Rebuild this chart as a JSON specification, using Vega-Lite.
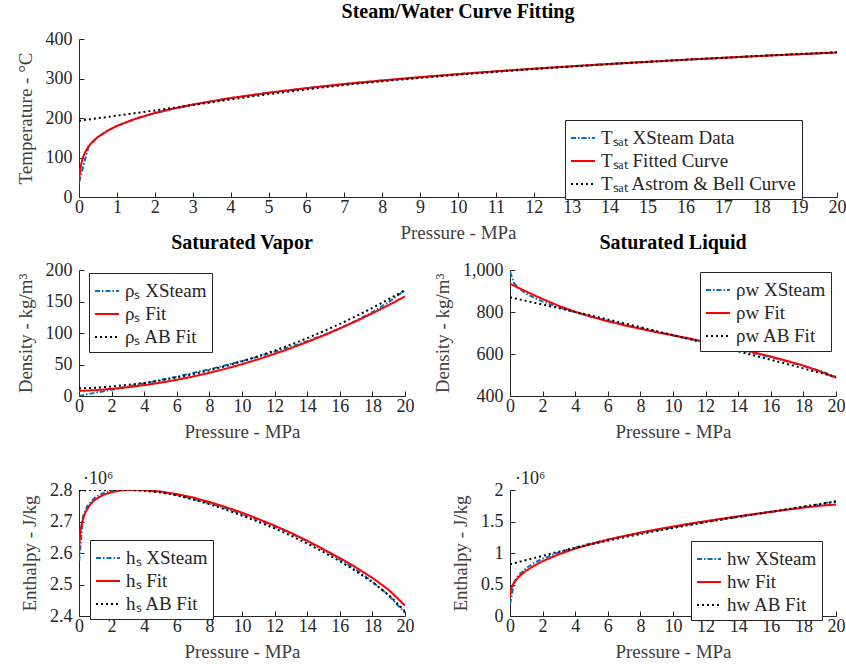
{
  "$schema": "https://vega.github.io/schema/vega-lite/v6.json",
  "padding": {"left": 15, "top": 2, "right": 0, "bottom": 5},
  "background": "white",
  "config": {
    "font": "Liberation Serif",
    "view": {"stroke": null},
    "axis": {"grid": false, "domainColor": "#262626", "domainWidth": 1, "tickColor": "#262626", "tickSize": -5, "labelFontSize": 18, "labelColor": "#262626", "titleFontSize": 19, "titleFontWeight": "normal", "titleColor": "#404040", "labelFlush": false, "labelOverlap": false},
    "axisX": {"titlePadding": 7, "labelPadding": 6},
    "axisY": {"titlePadding": 10, "labelPadding": 12},
    "legend": {"strokeColor": "#262626", "fillColor": "#ffffff", "padding": 5, "symbolType": "stroke", "symbolSize": 576, "symbolStrokeWidth": 2, "labelFontSize": 19, "labelColor": "#262626", "labelOffset": 5, "rowPadding": 0, "cornerRadius": 0, "labelLimit": 400},
    "title": {"fontSize": 20, "fontWeight": "bold", "color": "#000000", "frame": "group", "anchor": "middle", "offset": 8},
    "line": {"strokeWidth": 2}
  },
  "datasets": {
    "tsat": [
      {"s": "data", "p": 0.007, "v": 39}, {"s": "data", "p": 0.25, "v": 127.4}, {"s": "data", "p": 0.5, "v": 151.8}, {"s": "data", "p": 0.75, "v": 167.8}, {"s": "data", "p": 1, "v": 179.9}, {"s": "data", "p": 1.5, "v": 198.3}, {"s": "data", "p": 2, "v": 212.4}, {"s": "data", "p": 2.5, "v": 223.9}, {"s": "data", "p": 3, "v": 233.9}, {"s": "data", "p": 3.5, "v": 242.6}, {"s": "data", "p": 4, "v": 250.4}, {"s": "data", "p": 5, "v": 263.9}, {"s": "data", "p": 6, "v": 275.6}, {"s": "data", "p": 7, "v": 285.8}, {"s": "data", "p": 8, "v": 295.0}, {"s": "data", "p": 9, "v": 303.3}, {"s": "data", "p": 10, "v": 311.0}, {"s": "data", "p": 11, "v": 318.1}, {"s": "data", "p": 12, "v": 324.7}, {"s": "data", "p": 13, "v": 330.9}, {"s": "data", "p": 14, "v": 336.7}, {"s": "data", "p": 15, "v": 342.2}, {"s": "data", "p": 16, "v": 347.4}, {"s": "data", "p": 17, "v": 352.3}, {"s": "data", "p": 18, "v": 357.0}, {"s": "data", "p": 19, "v": 361.5}, {"s": "data", "p": 20, "v": 365.7},
      {"s": "fit", "p": 0, "v": 35}, {"s": "fit", "p": 0.01, "v": 50}, {"s": "fit", "p": 0.03, "v": 68}, {"s": "fit", "p": 0.06, "v": 84}, {"s": "fit", "p": 0.1, "v": 99}, {"s": "fit", "p": 0.15, "v": 111}, {"s": "fit", "p": 0.2, "v": 120}, {"s": "fit", "p": 0.3, "v": 134}, {"s": "fit", "p": 0.4, "v": 144}, {"s": "fit", "p": 0.5, "v": 152}, {"s": "fit", "p": 0.75, "v": 167.5}, {"s": "fit", "p": 1, "v": 180}, {"s": "fit", "p": 1.5, "v": 198.5}, {"s": "fit", "p": 2, "v": 212.5}, {"s": "fit", "p": 2.5, "v": 224}, {"s": "fit", "p": 3, "v": 234}, {"s": "fit", "p": 4, "v": 250.5}, {"s": "fit", "p": 5, "v": 264}, {"s": "fit", "p": 6, "v": 275.6}, {"s": "fit", "p": 7, "v": 285.9}, {"s": "fit", "p": 8, "v": 295.1}, {"s": "fit", "p": 9, "v": 303.4}, {"s": "fit", "p": 10, "v": 311.1}, {"s": "fit", "p": 11, "v": 318.2}, {"s": "fit", "p": 12, "v": 324.8}, {"s": "fit", "p": 13, "v": 331}, {"s": "fit", "p": 14, "v": 336.8}, {"s": "fit", "p": 15, "v": 342.3}, {"s": "fit", "p": 16, "v": 347.5}, {"s": "fit", "p": 17, "v": 352.4}, {"s": "fit", "p": 18, "v": 357.1}, {"s": "fit", "p": 19, "v": 361.6}, {"s": "fit", "p": 20, "v": 365.8},
      {"s": "ab", "p": 0, "v": 193}, {"s": "ab", "p": 1, "v": 206}, {"s": "ab", "p": 2, "v": 219}, {"s": "ab", "p": 3, "v": 232.5}, {"s": "ab", "p": 4, "v": 247}, {"s": "ab", "p": 5, "v": 260.5}, {"s": "ab", "p": 6, "v": 272.5}, {"s": "ab", "p": 7, "v": 283.5}, {"s": "ab", "p": 8, "v": 293}, {"s": "ab", "p": 9, "v": 301.5}, {"s": "ab", "p": 10, "v": 309.5}, {"s": "ab", "p": 11, "v": 317}, {"s": "ab", "p": 12, "v": 324}, {"s": "ab", "p": 13, "v": 330.5}, {"s": "ab", "p": 14, "v": 336.5}, {"s": "ab", "p": 15, "v": 342}, {"s": "ab", "p": 16, "v": 347.5}, {"s": "ab", "p": 17, "v": 352.5}, {"s": "ab", "p": 18, "v": 357.5}, {"s": "ab", "p": 19, "v": 362}, {"s": "ab", "p": 20, "v": 366.5}
    ],
    "rhos": [
      {"s": "data", "p": 0.01, "v": 0.07}, {"s": "data", "p": 0.25, "v": 1.39}, {"s": "data", "p": 0.5, "v": 2.67}, {"s": "data", "p": 1, "v": 5.15}, {"s": "data", "p": 2, "v": 10.04}, {"s": "data", "p": 3, "v": 15.0}, {"s": "data", "p": 4, "v": 20.1}, {"s": "data", "p": 5, "v": 25.35}, {"s": "data", "p": 6, "v": 30.8}, {"s": "data", "p": 7, "v": 36.5}, {"s": "data", "p": 8, "v": 42.5}, {"s": "data", "p": 9, "v": 48.8}, {"s": "data", "p": 10, "v": 55.5}, {"s": "data", "p": 11, "v": 62.5}, {"s": "data", "p": 12, "v": 70.1}, {"s": "data", "p": 13, "v": 78.2}, {"s": "data", "p": 14, "v": 87.1}, {"s": "data", "p": 15, "v": 96.7}, {"s": "data", "p": 16, "v": 107.4}, {"s": "data", "p": 17, "v": 119.5}, {"s": "data", "p": 18, "v": 133.2}, {"s": "data", "p": 19, "v": 149.0}, {"s": "data", "p": 20, "v": 168},
      {"s": "fit", "p": 0, "v": 8}, {"s": "fit", "p": 1, "v": 9.3}, {"s": "fit", "p": 2, "v": 11.3}, {"s": "fit", "p": 3, "v": 13.9}, {"s": "fit", "p": 4, "v": 17.2}, {"s": "fit", "p": 5, "v": 21.1}, {"s": "fit", "p": 6, "v": 25.7}, {"s": "fit", "p": 7, "v": 30.9}, {"s": "fit", "p": 8, "v": 36.8}, {"s": "fit", "p": 9, "v": 43.3}, {"s": "fit", "p": 10, "v": 50.5}, {"s": "fit", "p": 11, "v": 58.3}, {"s": "fit", "p": 12, "v": 66.8}, {"s": "fit", "p": 13, "v": 75.9}, {"s": "fit", "p": 14, "v": 85.7}, {"s": "fit", "p": 15, "v": 96.1}, {"s": "fit", "p": 16, "v": 107.2}, {"s": "fit", "p": 17, "v": 118.9}, {"s": "fit", "p": 18, "v": 131.3}, {"s": "fit", "p": 19, "v": 144.3}, {"s": "fit", "p": 20, "v": 158},
      {"s": "ab", "p": 0, "v": 12}, {"s": "ab", "p": 1, "v": 13.2}, {"s": "ab", "p": 2, "v": 15}, {"s": "ab", "p": 3, "v": 17.6}, {"s": "ab", "p": 4, "v": 20.8}, {"s": "ab", "p": 5, "v": 24.8}, {"s": "ab", "p": 6, "v": 29.4}, {"s": "ab", "p": 7, "v": 34.8}, {"s": "ab", "p": 8, "v": 40.8}, {"s": "ab", "p": 9, "v": 47.6}, {"s": "ab", "p": 10, "v": 55}, {"s": "ab", "p": 11, "v": 63.2}, {"s": "ab", "p": 12, "v": 72}, {"s": "ab", "p": 13, "v": 81.6}, {"s": "ab", "p": 14, "v": 91.8}, {"s": "ab", "p": 15, "v": 102.8}, {"s": "ab", "p": 16, "v": 114.4}, {"s": "ab", "p": 17, "v": 126.8}, {"s": "ab", "p": 18, "v": 139.8}, {"s": "ab", "p": 19, "v": 153.6}, {"s": "ab", "p": 20, "v": 168}
    ],
    "rhow": [
      {"s": "data", "p": 0.01, "v": 989.8}, {"s": "data", "p": 0.25, "v": 937.5}, {"s": "data", "p": 0.5, "v": 915.3}, {"s": "data", "p": 1, "v": 887.1}, {"s": "data", "p": 1.5, "v": 866.8}, {"s": "data", "p": 2, "v": 849.8}, {"s": "data", "p": 3, "v": 821.9}, {"s": "data", "p": 4, "v": 798.4}, {"s": "data", "p": 5, "v": 777.4}, {"s": "data", "p": 6, "v": 758.0}, {"s": "data", "p": 7, "v": 739.7}, {"s": "data", "p": 8, "v": 722.2}, {"s": "data", "p": 9, "v": 705.0}, {"s": "data", "p": 10, "v": 688.4}, {"s": "data", "p": 11, "v": 671.8}, {"s": "data", "p": 12, "v": 654.9}, {"s": "data", "p": 13, "v": 637.8}, {"s": "data", "p": 14, "v": 620.0}, {"s": "data", "p": 15, "v": 603.5}, {"s": "data", "p": 16, "v": 584.6}, {"s": "data", "p": 17, "v": 564.8}, {"s": "data", "p": 18, "v": 543.5}, {"s": "data", "p": 19, "v": 520}, {"s": "data", "p": 20, "v": 490.8},
      {"s": "fit", "p": 0, "v": 935}, {"s": "fit", "p": 0.5, "v": 916}, {"s": "fit", "p": 1, "v": 897}, {"s": "fit", "p": 1.5, "v": 879}, {"s": "fit", "p": 2, "v": 862}, {"s": "fit", "p": 3, "v": 829}, {"s": "fit", "p": 4, "v": 801}, {"s": "fit", "p": 5, "v": 777}, {"s": "fit", "p": 6, "v": 756}, {"s": "fit", "p": 7, "v": 737}, {"s": "fit", "p": 8, "v": 720}, {"s": "fit", "p": 9, "v": 704}, {"s": "fit", "p": 10, "v": 689}, {"s": "fit", "p": 11, "v": 674}, {"s": "fit", "p": 12, "v": 658}, {"s": "fit", "p": 13, "v": 642}, {"s": "fit", "p": 14, "v": 625}, {"s": "fit", "p": 15, "v": 607}, {"s": "fit", "p": 16, "v": 588}, {"s": "fit", "p": 17, "v": 567}, {"s": "fit", "p": 18, "v": 545}, {"s": "fit", "p": 19, "v": 518}, {"s": "fit", "p": 20, "v": 487},
      {"s": "ab", "p": 0, "v": 870}, {"s": "ab", "p": 1, "v": 852.9}, {"s": "ab", "p": 2, "v": 835.6}, {"s": "ab", "p": 3, "v": 818.1}, {"s": "ab", "p": 4, "v": 800.4}, {"s": "ab", "p": 5, "v": 782.5}, {"s": "ab", "p": 6, "v": 764.4}, {"s": "ab", "p": 7, "v": 746.1}, {"s": "ab", "p": 8, "v": 727.6}, {"s": "ab", "p": 9, "v": 708.9}, {"s": "ab", "p": 10, "v": 690}, {"s": "ab", "p": 11, "v": 670.9}, {"s": "ab", "p": 12, "v": 651.6}, {"s": "ab", "p": 13, "v": 632.1}, {"s": "ab", "p": 14, "v": 612.4}, {"s": "ab", "p": 15, "v": 592.5}, {"s": "ab", "p": 16, "v": 572.4}, {"s": "ab", "p": 17, "v": 552.1}, {"s": "ab", "p": 18, "v": 531.6}, {"s": "ab", "p": 19, "v": 510.9}, {"s": "ab", "p": 20, "v": 490}
    ],
    "hs": [
      {"s": "data", "p": 0.01, "v": 2575000}, {"s": "data", "p": 0.25, "v": 2716000}, {"s": "data", "p": 0.5, "v": 2748000}, {"s": "data", "p": 1, "v": 2777000}, {"s": "data", "p": 1.5, "v": 2791000}, {"s": "data", "p": 2, "v": 2798000}, {"s": "data", "p": 2.5, "v": 2800000}, {"s": "data", "p": 3, "v": 2800000}, {"s": "data", "p": 3.5, "v": 2800000}, {"s": "data", "p": 4, "v": 2800000}, {"s": "data", "p": 5, "v": 2794000}, {"s": "data", "p": 6, "v": 2784000}, {"s": "data", "p": 7, "v": 2772000}, {"s": "data", "p": 8, "v": 2758000}, {"s": "data", "p": 9, "v": 2742000}, {"s": "data", "p": 10, "v": 2724000}, {"s": "data", "p": 11, "v": 2705000}, {"s": "data", "p": 12, "v": 2684000}, {"s": "data", "p": 13, "v": 2662000}, {"s": "data", "p": 14, "v": 2637000}, {"s": "data", "p": 15, "v": 2610000}, {"s": "data", "p": 16, "v": 2580000}, {"s": "data", "p": 17, "v": 2547000}, {"s": "data", "p": 18, "v": 2509000}, {"s": "data", "p": 19, "v": 2465000}, {"s": "data", "p": 20, "v": 2410000},
      {"s": "fit", "p": 0, "v": 2600000}, {"s": "fit", "p": 0.05, "v": 2650000}, {"s": "fit", "p": 0.1, "v": 2675000}, {"s": "fit", "p": 0.2, "v": 2700000}, {"s": "fit", "p": 0.4, "v": 2730000}, {"s": "fit", "p": 0.7, "v": 2755000}, {"s": "fit", "p": 1, "v": 2770000}, {"s": "fit", "p": 1.5, "v": 2785000}, {"s": "fit", "p": 2, "v": 2793000}, {"s": "fit", "p": 2.5, "v": 2798000}, {"s": "fit", "p": 3, "v": 2800000}, {"s": "fit", "p": 3.5, "v": 2800000}, {"s": "fit", "p": 4, "v": 2799000}, {"s": "fit", "p": 5, "v": 2795000}, {"s": "fit", "p": 6, "v": 2787000}, {"s": "fit", "p": 7, "v": 2776000}, {"s": "fit", "p": 8, "v": 2762000}, {"s": "fit", "p": 9, "v": 2746000}, {"s": "fit", "p": 10, "v": 2728000}, {"s": "fit", "p": 11, "v": 2708000}, {"s": "fit", "p": 12, "v": 2687000}, {"s": "fit", "p": 13, "v": 2664000}, {"s": "fit", "p": 14, "v": 2639000}, {"s": "fit", "p": 15, "v": 2612000}, {"s": "fit", "p": 16, "v": 2584000}, {"s": "fit", "p": 17, "v": 2554000}, {"s": "fit", "p": 18, "v": 2521000}, {"s": "fit", "p": 19, "v": 2483000}, {"s": "fit", "p": 20, "v": 2433000},
      {"s": "ab", "p": 0, "v": 2799000}, {"s": "ab", "p": 1, "v": 2800000}, {"s": "ab", "p": 2, "v": 2800000}, {"s": "ab", "p": 3, "v": 2800000}, {"s": "ab", "p": 4, "v": 2798000}, {"s": "ab", "p": 5, "v": 2792000}, {"s": "ab", "p": 6, "v": 2783000}, {"s": "ab", "p": 7, "v": 2770000}, {"s": "ab", "p": 8, "v": 2755000}, {"s": "ab", "p": 9, "v": 2738000}, {"s": "ab", "p": 10, "v": 2719000}, {"s": "ab", "p": 11, "v": 2699000}, {"s": "ab", "p": 12, "v": 2678000}, {"s": "ab", "p": 13, "v": 2655000}, {"s": "ab", "p": 14, "v": 2630000}, {"s": "ab", "p": 15, "v": 2603000}, {"s": "ab", "p": 16, "v": 2574000}, {"s": "ab", "p": 17, "v": 2542000}, {"s": "ab", "p": 18, "v": 2507000}, {"s": "ab", "p": 19, "v": 2467000}, {"s": "ab", "p": 20, "v": 2415000}
    ],
    "hw": [
      {"s": "data", "p": 0.01, "v": 191800}, {"s": "data", "p": 0.25, "v": 535400}, {"s": "data", "p": 0.5, "v": 640100}, {"s": "data", "p": 1, "v": 762600}, {"s": "data", "p": 1.5, "v": 844700}, {"s": "data", "p": 2, "v": 908600}, {"s": "data", "p": 3, "v": 1008400}, {"s": "data", "p": 4, "v": 1087300}, {"s": "data", "p": 5, "v": 1154500}, {"s": "data", "p": 6, "v": 1213700}, {"s": "data", "p": 7, "v": 1267400}, {"s": "data", "p": 8, "v": 1316600}, {"s": "data", "p": 9, "v": 1363300}, {"s": "data", "p": 10, "v": 1407600}, {"s": "data", "p": 11, "v": 1450100}, {"s": "data", "p": 12, "v": 1491300}, {"s": "data", "p": 13, "v": 1531500}, {"s": "data", "p": 14, "v": 1571100}, {"s": "data", "p": 15, "v": 1610500}, {"s": "data", "p": 16, "v": 1650100}, {"s": "data", "p": 17, "v": 1690300}, {"s": "data", "p": 18, "v": 1732000}, {"s": "data", "p": 19, "v": 1776500}, {"s": "data", "p": 20, "v": 1826300},
      {"s": "fit", "p": 0, "v": 300000}, {"s": "fit", "p": 0.05, "v": 400000}, {"s": "fit", "p": 0.1, "v": 450000}, {"s": "fit", "p": 0.2, "v": 510000}, {"s": "fit", "p": 0.4, "v": 580000}, {"s": "fit", "p": 0.7, "v": 660000}, {"s": "fit", "p": 1, "v": 720000}, {"s": "fit", "p": 1.5, "v": 800000}, {"s": "fit", "p": 2, "v": 870000}, {"s": "fit", "p": 3, "v": 980000}, {"s": "fit", "p": 4, "v": 1070000}, {"s": "fit", "p": 5, "v": 1145000}, {"s": "fit", "p": 6, "v": 1210000}, {"s": "fit", "p": 7, "v": 1270000}, {"s": "fit", "p": 8, "v": 1325000}, {"s": "fit", "p": 9, "v": 1375000}, {"s": "fit", "p": 10, "v": 1420000}, {"s": "fit", "p": 11, "v": 1465000}, {"s": "fit", "p": 12, "v": 1505000}, {"s": "fit", "p": 13, "v": 1545000}, {"s": "fit", "p": 14, "v": 1583000}, {"s": "fit", "p": 15, "v": 1620000}, {"s": "fit", "p": 16, "v": 1655000}, {"s": "fit", "p": 17, "v": 1688000}, {"s": "fit", "p": 18, "v": 1720000}, {"s": "fit", "p": 19, "v": 1750000}, {"s": "fit", "p": 20, "v": 1770000},
      {"s": "ab", "p": 0, "v": 820000}, {"s": "ab", "p": 1, "v": 888000}, {"s": "ab", "p": 2, "v": 955000}, {"s": "ab", "p": 3, "v": 1020000}, {"s": "ab", "p": 4, "v": 1080000}, {"s": "ab", "p": 5, "v": 1140000}, {"s": "ab", "p": 6, "v": 1195000}, {"s": "ab", "p": 7, "v": 1250000}, {"s": "ab", "p": 8, "v": 1300000}, {"s": "ab", "p": 9, "v": 1350000}, {"s": "ab", "p": 10, "v": 1398000}, {"s": "ab", "p": 11, "v": 1445000}, {"s": "ab", "p": 12, "v": 1490000}, {"s": "ab", "p": 13, "v": 1533000}, {"s": "ab", "p": 14, "v": 1575000}, {"s": "ab", "p": 15, "v": 1615000}, {"s": "ab", "p": 16, "v": 1655000}, {"s": "ab", "p": 17, "v": 1695000}, {"s": "ab", "p": 18, "v": 1735000}, {"s": "ab", "p": 19, "v": 1775000}, {"s": "ab", "p": 20, "v": 1815000}
    ]
  },
  "bounds": "flush",
  "spacing": 73,
  "resolve": {"scale": {"color": "independent", "strokeDash": "independent"}, "legend": {"color": "independent", "strokeDash": "independent"}},
  "vconcat": [
    {
      "width": 758, "height": 158,
      "title": {"text": "Steam/Water Curve Fitting"},
      "data": {"name": "tsat"},
      "mark": {"type": "line", "clip": true, "strokeWidth": 2},
      "encoding": {
        "x": {"field": "p", "type": "quantitative", "scale": {"domain": [0, 20], "nice": false}, "axis": {"title": "Pressure - MPa", "values": [0,1,2,3,4,5,6,7,8,9,10,11,12,13,14,15,16,17,18,19,20]}},
        "y": {"field": "v", "type": "quantitative", "scale": {"domain": [0, 400], "nice": false}, "axis": {"title": "Temperature - °C", "values": [0,100,200,300,400]}},
        "color": {"field": "s", "type": "nominal", "scale": {"domain": ["data","fit","ab"], "range": ["#0072BD","#FF0000","#000000"]},
          "legend": {"title": null, "orient": "none", "legendX": 486, "legendY": 81, "labelExpr": "datum.label == 'data' ? 'Tₛₐₜ XSteam Data' : datum.label == 'fit' ? 'Tₛₐₜ Fitted Curve' : 'Tₛₐₜ Astrom & Bell Curve'"}},
        "strokeDash": {"field": "s", "type": "nominal", "scale": {"domain": ["data","fit","ab"], "range": [[5,2,1.5,2],[1,0],[2,3]]},
          "legend": {"title": null, "orient": "none", "legendX": 486, "legendY": 81, "labelExpr": "datum.label == 'data' ? 'Tₛₐₜ XSteam Data' : datum.label == 'fit' ? 'Tₛₐₜ Fitted Curve' : 'Tₛₐₜ Astrom & Bell Curve'"}}
      }
    },
    {
      "bounds": "flush",
      "spacing": 220,
      "resolve": {"scale": {"color": "independent", "strokeDash": "independent"}, "legend": {"color": "independent", "strokeDash": "independent"}},
      "vconcat": [
        {
          "bounds": "flush",
          "spacing": 105,
          "resolve": {"scale": {"color": "independent", "strokeDash": "independent"}, "legend": {"color": "independent", "strokeDash": "independent"}},
          "hconcat": [
            {
              "width": 326, "height": 126,
              "title": {"text": "Saturated Vapor"},
              "data": {"name": "rhos"},
              "mark": {"type": "line", "clip": true, "strokeWidth": 2},
              "encoding": {
                "x": {"field": "p", "type": "quantitative", "scale": {"domain": [0, 20], "nice": false}, "axis": {"title": "Pressure - MPa", "values": [0,2,4,6,8,10,12,14,16,18,20]}},
                "y": {"field": "v", "type": "quantitative", "scale": {"domain": [0, 200], "nice": false}, "axis": {"title": "Density - kg/m³", "values": [0,50,100,150,200]}},
                "color": {"field": "s", "type": "nominal", "scale": {"domain": ["data","fit","ab"], "range": ["#0072BD","#FF0000","#000000"]},
                  "legend": {"title": null, "orient": "none", "legendX": 10, "legendY": 3, "labelExpr": "datum.label == 'data' ? 'ρₛ XSteam' : datum.label == 'fit' ? 'ρₛ Fit' : 'ρₛ AB Fit'"}},
                "strokeDash": {"field": "s", "type": "nominal", "scale": {"domain": ["data","fit","ab"], "range": [[5,2,1.5,2],[1,0],[2,3]]},
                  "legend": {"title": null, "orient": "none", "legendX": 10, "legendY": 3, "labelExpr": "datum.label == 'data' ? 'ρₛ XSteam' : datum.label == 'fit' ? 'ρₛ Fit' : 'ρₛ AB Fit'"}}
              }
            },
            {
              "width": 326, "height": 126,
              "title": {"text": "Saturated Liquid"},
              "data": {"name": "rhow"},
              "mark": {"type": "line", "clip": true, "strokeWidth": 2},
              "encoding": {
                "x": {"field": "p", "type": "quantitative", "scale": {"domain": [0, 20], "nice": false}, "axis": {"title": "Pressure - MPa", "values": [0,2,4,6,8,10,12,14,16,18,20]}},
                "y": {"field": "v", "type": "quantitative", "scale": {"domain": [400, 1000], "nice": false}, "axis": {"title": "Density - kg/m³", "values": [400,600,800,1000], "format": ",.0f"}},
                "color": {"field": "s", "type": "nominal", "scale": {"domain": ["data","fit","ab"], "range": ["#0072BD","#FF0000","#000000"]},
                  "legend": {"title": null, "orient": "none", "legendX": 190, "legendY": 2, "labelExpr": "datum.label == 'data' ? 'ρw XSteam' : datum.label == 'fit' ? 'ρw Fit' : 'ρw AB Fit'"}},
                "strokeDash": {"field": "s", "type": "nominal", "scale": {"domain": ["data","fit","ab"], "range": [[5,2,1.5,2],[1,0],[2,3]]},
                  "legend": {"title": null, "orient": "none", "legendX": 190, "legendY": 2, "labelExpr": "datum.label == 'data' ? 'ρw XSteam' : datum.label == 'fit' ? 'ρw Fit' : 'ρw AB Fit'"}}
              }
            }
          ]
        },
        {
          "bounds": "flush",
          "spacing": 105,
          "resolve": {"scale": {"color": "independent", "strokeDash": "independent"}, "legend": {"color": "independent", "strokeDash": "independent"}},
          "hconcat": [
            {
              "width": 326, "height": 126,
              "title": {"text": "·10⁶", "anchor": "start", "fontWeight": "normal", "fontSize": 18, "color": "#262626", "offset": -7, "dx": 4},
              "data": {"name": "hs"},
              "mark": {"type": "line", "clip": true, "strokeWidth": 2},
              "encoding": {
                "x": {"field": "p", "type": "quantitative", "scale": {"domain": [0, 20], "nice": false}, "axis": {"title": "Pressure - MPa", "values": [0,2,4,6,8,10,12,14,16,18,20]}},
                "y": {"field": "v", "type": "quantitative", "scale": {"domain": [2400000, 2800000], "nice": false}, "axis": {"title": "Enthalpy - J/kg", "values": [2400000,2500000,2600000,2700000,2800000], "labelExpr": "format(datum.value / 1000000, '.1f')"}},
                "color": {"field": "s", "type": "nominal", "scale": {"domain": ["data","fit","ab"], "range": ["#0072BD","#FF0000","#000000"]},
                  "legend": {"title": null, "orient": "none", "legendX": 11, "legendY": 50, "labelExpr": "datum.label == 'data' ? 'hₛ XSteam' : datum.label == 'fit' ? 'hₛ Fit' : 'hₛ AB Fit'"}},
                "strokeDash": {"field": "s", "type": "nominal", "scale": {"domain": ["data","fit","ab"], "range": [[5,2,1.5,2],[1,0],[2,3]]},
                  "legend": {"title": null, "orient": "none", "legendX": 11, "legendY": 50, "labelExpr": "datum.label == 'data' ? 'hₛ XSteam' : datum.label == 'fit' ? 'hₛ Fit' : 'hₛ AB Fit'"}}
              }
            },
            {
              "width": 326, "height": 126,
              "title": {"text": "·10⁶", "anchor": "start", "fontWeight": "normal", "fontSize": 18, "color": "#262626", "offset": -7, "dx": 5},
              "data": {"name": "hw"},
              "mark": {"type": "line", "clip": true, "strokeWidth": 2},
              "encoding": {
                "x": {"field": "p", "type": "quantitative", "scale": {"domain": [0, 20], "nice": false}, "axis": {"title": "Pressure - MPa", "values": [0,2,4,6,8,10,12,14,16,18,20]}},
                "y": {"field": "v", "type": "quantitative", "scale": {"domain": [0, 2000000], "nice": false}, "axis": {"title": "Enthalpy - J/kg", "values": [0,500000,1000000,1500000,2000000], "labelExpr": "format(datum.value / 1000000, '~g')"}},
                "color": {"field": "s", "type": "nominal", "scale": {"domain": ["data","fit","ab"], "range": ["#0072BD","#FF0000","#000000"]},
                  "legend": {"title": null, "orient": "none", "legendX": 181, "legendY": 51, "labelExpr": "datum.label == 'data' ? 'hw XSteam' : datum.label == 'fit' ? 'hw Fit' : 'hw AB Fit'"}},
                "strokeDash": {"field": "s", "type": "nominal", "scale": {"domain": ["data","fit","ab"], "range": [[5,2,1.5,2],[1,0],[2,3]]},
                  "legend": {"title": null, "orient": "none", "legendX": 181, "legendY": 51, "labelExpr": "datum.label == 'data' ? 'hw XSteam' : datum.label == 'fit' ? 'hw Fit' : 'hw AB Fit'"}}
              }
            }
          ]
        }
      ]
    }
  ]
}
